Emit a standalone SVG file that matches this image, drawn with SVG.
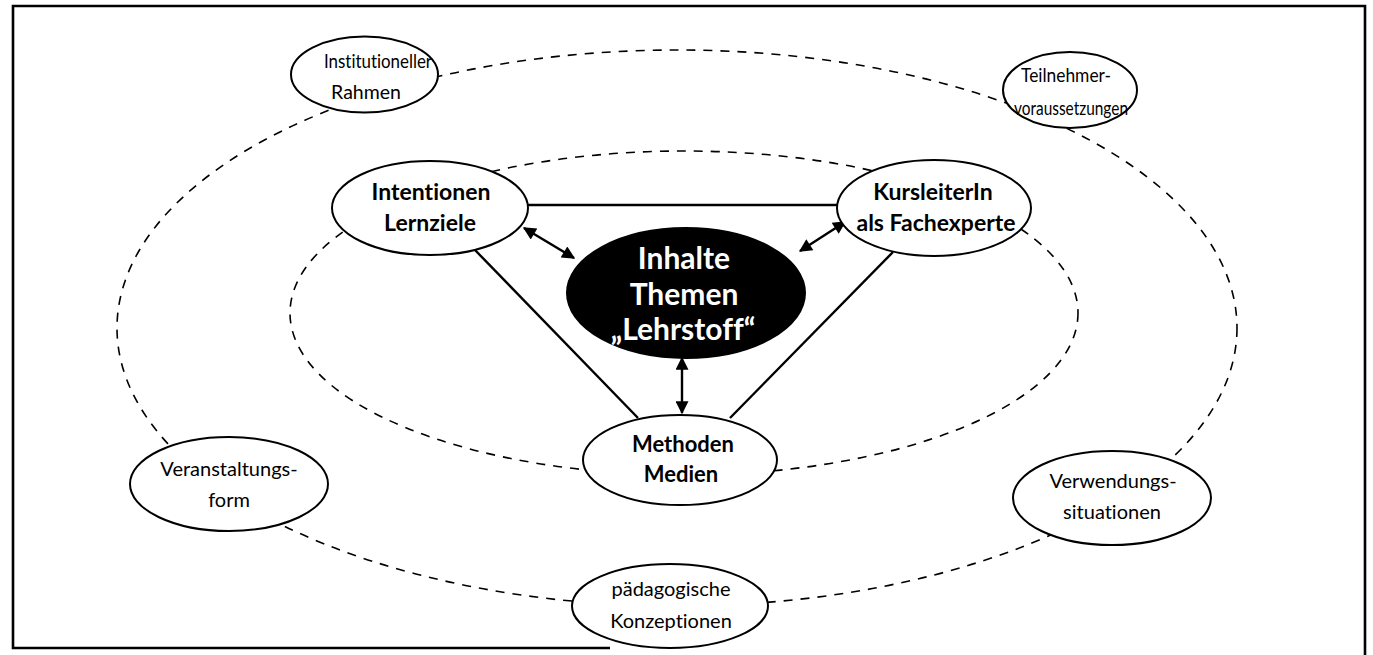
<svg xmlns="http://www.w3.org/2000/svg" width="1373" height="655" viewBox="0 0 1373 655">
  <defs>
    <marker id="head" viewBox="0 0 10 10" refX="9" refY="5" markerWidth="15" markerHeight="13" orient="auto-start-reverse" markerUnits="userSpaceOnUse">
      <path d="M0,0 L10,5 L0,10 z" fill="#000"/>
    </marker>
    <style>
      .frame { fill: none; stroke: #000; stroke-width: 2.6; }
      .ring { fill: none; stroke: #000; stroke-width: 1.6; stroke-dasharray: 9 8; }
      .edge { fill: none; stroke: #000; stroke-width: 2.4; }
      .arrow { fill: none; stroke: #000; stroke-width: 2.4; marker-start: url(#head); marker-end: url(#head); }
      .node { fill: #fff; stroke: #000; stroke-width: 2; }
      .core { fill: #000; stroke: #000; stroke-width: 2; }
      .t { font-family: Lato, "Open Sans", "Liberation Sans", sans-serif; text-anchor: middle; fill: #000;
           font-variant-ligatures: none; font-feature-settings: "liga" 0; }
      .light { font-size: 20px; }
      .small { font-size: 19.5px; }
      .bold { font-size: 23px; font-weight: bold; }
      .mid { font-size: 22px; font-weight: bold; }
      .big { font-size: 30px; font-weight: bold; fill: #fff; }
    </style>
  </defs>

  <rect width="1373" height="655" fill="#fff"/>
  <path class="frame" d="M610,648 H13 V6 H1365 V655"/>

  <!-- dashed context rings and the solid triangle -->
  <g id="connectors">
    <ellipse class="ring" cx="677" cy="328" rx="560" ry="278"/>
    <ellipse class="ring" cx="684" cy="313" rx="394" ry="162"/>
    <line class="edge" x1="528" y1="205" x2="838" y2="205"/>
    <line class="edge" x1="475" y1="250" x2="638" y2="418"/>
    <line class="edge" x1="893" y1="252" x2="730" y2="418"/>
    <line class="arrow" x1="524" y1="228" x2="574" y2="258"/>
    <line class="arrow" x1="845" y1="222" x2="800" y2="251"/>
    <line class="arrow" x1="682" y1="358" x2="682" y2="413"/>
  </g>

  <g id="institutioneller-rahmen">
    <ellipse class="node" cx="364.5" cy="74.5" rx="73.5" ry="38"/>
    <text class="t small" x="378" y="68" textLength="108" lengthAdjust="spacingAndGlyphs">Institutioneller</text>
    <text class="t small" x="366" y="99">Rahmen</text>
  </g>

  <g id="teilnehmervoraussetzungen">
    <ellipse class="node" cx="1070" cy="90" rx="67" ry="38"/>
    <text class="t small" x="1066" y="82" textLength="90" lengthAdjust="spacingAndGlyphs">Teilnehmer-</text>
    <text class="t small" x="1071" y="115" textLength="114" lengthAdjust="spacingAndGlyphs">voraussetzungen</text>
  </g>

  <g id="intentionen-lernziele">
    <ellipse class="node" cx="430" cy="208" rx="98" ry="47"/>
    <text class="t bold" x="431" y="200">Intentionen</text>
    <text class="t bold" x="430" y="231">Lernziele</text>
  </g>

  <g id="kursleiterin">
    <ellipse class="node" cx="934" cy="208" rx="97" ry="48"/>
    <text class="t bold" x="933" y="200">KursleiterIn</text>
    <text class="t bold" x="936" y="231">als Fachexperte</text>
  </g>

  <g id="inhalte">
    <ellipse class="core" cx="686" cy="293" rx="119" ry="65"/>
    <text class="t big" x="684" y="269">Inhalte</text>
    <text class="t big" x="684" y="305">Themen</text>
    <text class="t big" x="683" y="340">„Lehrstoff“</text>
  </g>

  <g id="methoden-medien">
    <ellipse class="node" cx="680" cy="460" rx="97" ry="45"/>
    <text class="t mid" x="683" y="452">Methoden</text>
    <text class="t mid" x="681" y="482">Medien</text>
  </g>

  <g id="veranstaltungsform">
    <ellipse class="node" cx="229" cy="484" rx="99" ry="47"/>
    <text class="t light" x="229" y="476">Veranstaltungs-</text>
    <text class="t light" x="229" y="507">form</text>
  </g>

  <g id="verwendungssituationen">
    <ellipse class="node" cx="1112" cy="498" rx="99" ry="47"/>
    <text class="t light" x="1113" y="488">Verwendungs-</text>
    <text class="t light" x="1112" y="519">situationen</text>
  </g>

  <g id="paedagogische-konzeptionen">
    <ellipse class="node" cx="670" cy="606" rx="98" ry="42"/>
    <text class="t light" x="671" y="596">pädagogische</text>
    <text class="t light" x="671" y="628">Konzeptionen</text>
  </g>
</svg>
